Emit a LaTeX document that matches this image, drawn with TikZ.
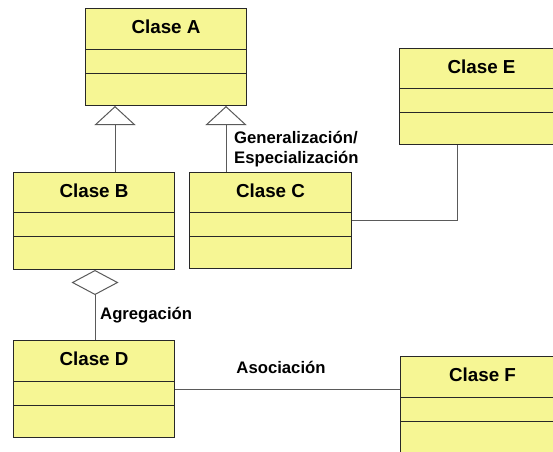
\documentclass[tikz,border=0pt]{standalone}
\usepackage{fontspec}
\setmainfont{Liberation Sans}
\usetikzlibrary{arrows.meta,calc}
\definecolor{umlfill}{RGB}{246,246,148}
\definecolor{umlline}{RGB}{40,40,40}
\definecolor{connline}{RGB}{90,90,90}
\tikzset{
  classbox/.style={draw=umlline, fill=umlfill, line width=1pt, rectangle, anchor=north west, inner sep=0pt, minimum width=161pt, minimum height=97pt},
  classtitle/.style={anchor=base, inner sep=0pt, font=\bfseries\fontsize{18.8}{20}\selectfont},
  divider/.style={draw=umlline, line width=1pt},
  conn/.style={draw=connline, line width=1pt},
  lbl/.style={anchor=base west, inner sep=0pt, font=\bfseries\fontsize{16.7}{20}\selectfont},
  gentip/.style={-{Triangle[open, length=19pt, width=41pt, fill=white]}},
  aggtip/.style={-{Diamond[open, length=25pt, width=47pt, fill=white]}}
}
\begin{document}
\begin{tikzpicture}[x=1pt,y=-1pt]
\useasboundingbox (0,0) rectangle (553,451);
\clip (0,0) rectangle (553,451);
% class boxes
\node[classbox] (A) at (85,8) {};
\node[classbox] (B) at (13,172) {};
\node[classbox, minimum width=162pt, minimum height=96pt] (C) at (189,172) {};
\node[classbox] (D) at (13,340) {};
\node[classbox, minimum width=164pt, minimum height=96pt] (E) at (399,48) {};
\node[classbox, minimum width=164pt] (F) at (400,356) {};
% dividers
\foreach \n/\a/\b in {A/41/65, B/40/64, C/40/64, D/41/65, E/40/64, F/41/65}{
  \draw[divider] ([yshift=-\a pt]\n.north west) -- ([yshift=-\a pt]\n.north east);
  \draw[divider] ([yshift=-\b pt]\n.north west) -- ([yshift=-\b pt]\n.north east);
}
% titles
\node[classtitle] (tA) at ([yshift=-25pt]A.north) {Clase A};
\node[classtitle] (tB) at ([yshift=-25pt]B.north) {Clase B};
\node[classtitle] (tC) at ([yshift=-25pt]C.north) {Clase C};
\node[classtitle] (tD) at ([yshift=-25pt]D.north) {Clase D};
\node[classtitle] (tE) at ([yshift=-25pt]E.north) {Clase E};
\node[classtitle] (tF) at ([yshift=-25pt]F.north) {Clase F};
% generalization
\draw[conn, gentip] ([xshift=102pt]B.north west) -- ([xshift=30pt]A.south west);
\draw[conn, gentip] ([xshift=37pt]C.north west) -- ([xshift=141pt]A.south west);
% aggregation
\draw[conn, aggtip] ([xshift=1pt]D.north) -- ([xshift=1pt]B.south);
% association C-E
\draw[conn] (C.east) -| ([xshift=58pt]E.south west);
% association D-F
\draw[conn] (D.east) -- (D.east -| F.west);
% labels
\node[lbl] (lg1) at (234,143) {Generalización/};
\node[lbl] (lg2) at (234,163) {Especialización};
\node[lbl] (lag) at (100,319) {Agregación};
\node[lbl, anchor=base] (las) at (281,373) {Asociación};
\end{tikzpicture}
\end{document}
